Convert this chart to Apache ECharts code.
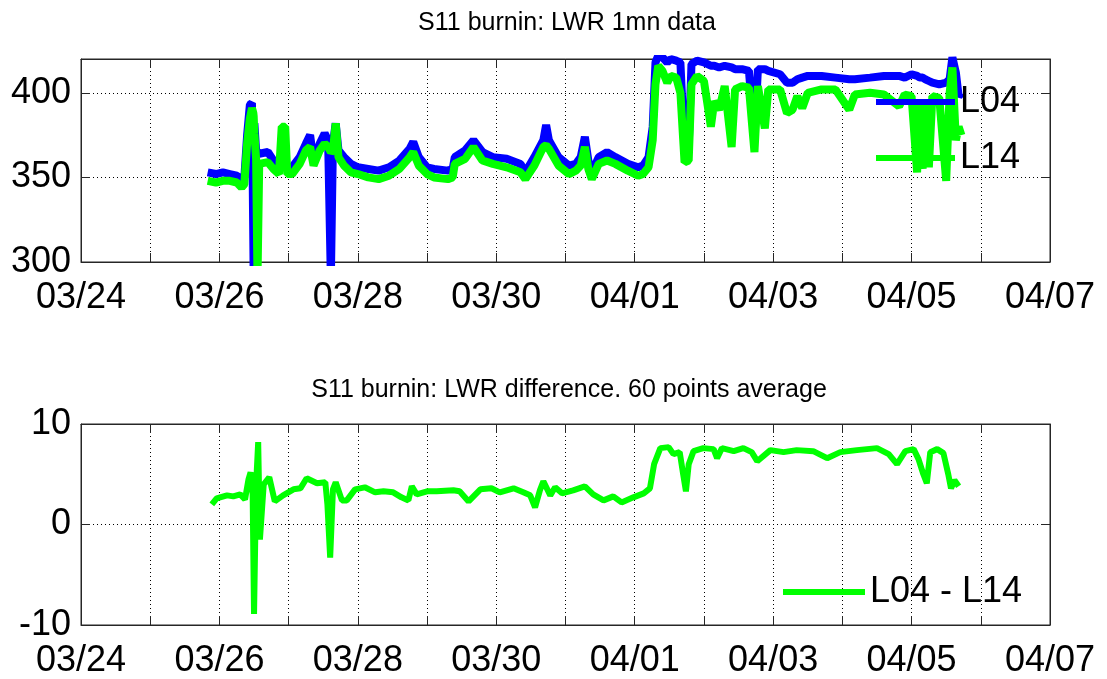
<!DOCTYPE html>
<html>
<head>
<meta charset="utf-8">
<title>S11 burnin LWR</title>
<script src="https://cdn.jsdelivr.net/npm/echarts@6/dist/echarts.min.js"></script>
<style>
  html, body { margin: 0; padding: 0; background: #fff; }
  #chart { width: 1107px; height: 679px; }
</style>
</head>
<body>
<div id="chart"></div>
<script>
// x values are days since 03/24 00:00
const xTickLabels = ['03/24', '03/26', '03/28', '03/30', '04/01', '04/03', '04/05', '04/07'];

const lwrDays = [
  1.83, 1.95, 2.05, 2.15, 2.25, 2.32, 2.36, 2.40, 2.44, 2.47, 2.49, 2.495, 2.505, 2.53, 2.55, 2.575,
  2.60, 2.70, 2.78, 2.86, 2.90, 2.95, 2.98, 3.05, 3.16, 3.25, 3.31, 3.36, 3.45, 3.52, 3.57, 3.61,
  3.64, 3.68, 3.72, 3.80, 3.90, 4.00, 4.15, 4.30, 4.45, 4.60, 4.75, 4.80, 4.88, 5.00, 5.10, 5.30,
  5.37, 5.40, 5.55, 5.67, 5.80, 5.95, 6.15, 6.35, 6.42, 6.55, 6.68, 6.72, 6.76, 6.90, 7.05, 7.15,
  7.22, 7.28, 7.33, 7.38, 7.48, 7.60, 7.72, 7.90, 8.05, 8.12, 8.20, 8.26, 8.30, 8.34, 8.40, 8.47,
  8.52, 8.60, 8.66, 8.72, 8.78, 8.82, 8.90, 9.00, 9.10, 9.15, 9.22, 9.30, 9.40, 9.45, 9.55, 9.65,
  9.73, 9.78, 9.88, 9.93, 10.10, 10.20, 10.28, 10.35, 10.42, 10.50, 10.70, 10.90, 11.10, 11.18, 11.40, 11.60,
  11.82, 11.90, 12.00, 12.08, 12.12, 12.16, 12.20, 12.25, 12.30, 12.40, 12.50, 12.55, 12.59, 12.64, 12.68, 12.72
];
const l04 = [
  353, 352, 353, 352, 351, 349, 350, 375, 393, 394, 394, 290, 382, 366, 365, 364,
  363, 365, 360, 356, 357, 356, 355, 356, 362, 370, 375, 360, 370, 376, 372, 290,
  370, 382, 366, 362, 358, 356, 355, 354, 356, 360, 367, 371, 362, 356, 355, 354,
  355, 362, 366, 372, 365, 362, 361, 358, 353, 362, 372, 381, 372, 362, 357, 358,
  362, 374, 360, 353, 362, 365, 362, 358, 356, 357, 362, 380, 418, 422, 421, 418,
  420, 419, 418, 366, 368, 417, 419, 418, 416, 416, 415, 416, 415, 414, 414, 413,
  373, 414, 414, 413, 411, 406, 406, 408, 409, 410, 410, 409, 408, 408, 409, 410,
  410, 409, 411, 410, 409, 409, 408, 407, 406, 405, 406, 408, 421, 412, 398, 400
];
const l14 = [
  348, 347, 348, 348, 347, 344, 346, 370, 385, 391, 388, 386, 376, 361, 290, 358,
  358, 359, 355, 352, 380, 380, 352, 352, 358, 366, 368, 357, 366, 370, 368, 365,
  366, 382, 362, 357, 353, 352, 350, 349, 351, 355, 362, 365, 357, 352, 350, 349,
  350, 358, 361, 368, 360, 358, 356, 353, 349, 357, 368, 369, 367, 357, 352, 354,
  357, 368, 355, 349, 358, 360, 358, 354, 351, 352, 356, 372, 405, 416, 413, 406,
  410, 409, 400, 359, 360, 405, 410, 407, 380, 395, 390, 404, 368, 402, 404, 403,
  365, 404, 379, 402, 402, 388, 390, 398, 391, 400, 402, 402, 390, 399, 400, 399,
  392, 399, 398, 353, 396, 355, 395, 356, 398, 397, 348, 400, 415, 372, 380, 375
];

const diffDays = [
  1.89, 1.96, 2.11, 2.20, 2.30, 2.37, 2.42, 2.45, 2.48, 2.50, 2.53, 2.56, 2.585, 2.64, 2.72, 2.80,
  2.92, 3.07, 3.17, 3.26, 3.41, 3.53, 3.56, 3.60, 3.64, 3.68, 3.77, 3.84, 3.96, 4.10, 4.25, 4.37,
  4.51, 4.63, 4.73, 4.78, 4.85, 5.00, 5.14, 5.38, 5.47, 5.60, 5.77, 5.93, 6.05, 6.25, 6.39, 6.49,
  6.56, 6.63, 6.68, 6.78, 6.85, 6.95, 7.11, 7.28, 7.40, 7.55, 7.69, 7.81, 7.98, 8.13, 8.22, 8.28,
  8.37, 8.49, 8.56, 8.65, 8.70, 8.74, 8.78, 8.85, 8.99, 9.14, 9.19, 9.26, 9.43, 9.57, 9.69, 9.77,
  9.96, 10.15, 10.34, 10.58, 10.78, 10.97, 11.21, 11.50, 11.67, 11.79, 11.91, 12.03, 12.10, 12.17, 12.22, 12.27,
  12.37, 12.46, 12.53, 12.57, 12.62, 12.68
];
const diffL04L14 = [
  2.0, 2.6, 2.9, 2.8, 3.0, 2.5, 4.5, 5.2, 3.0, -8.9, 4.0, 8.2, -1.5, 4.0, 4.7, 2.3,
  2.9, 3.5, 3.6, 4.6, 4.1, 4.2, 2.0, -3.3, 3.5, 4.2, 2.4, 2.4, 3.5, 3.7, 3.2, 3.3,
  3.2, 2.7, 2.4, 3.8, 3.0, 3.3, 3.3, 3.4, 3.3, 2.3, 3.5, 3.6, 3.2, 3.6, 3.2, 2.9,
  1.7, 3.4, 4.3, 2.9, 3.7, 3.1, 3.4, 3.8, 3.0, 2.4, 2.8, 2.2, 2.7, 3.1, 3.6, 6.0,
  7.6, 7.7, 7.0, 7.2, 5.0, 3.3, 6.0, 7.3, 7.6, 7.5, 6.6, 7.6, 7.3, 7.6, 7.2, 6.3,
  7.4, 7.2, 7.4, 7.3, 6.6, 7.2, 7.4, 7.6, 7.0, 6.0, 7.3, 7.5, 6.5, 5.0, 4.1, 7.2,
  7.5, 7.1, 5.0, 3.6, 4.4, 3.8
];

const chart = echarts.init(document.getElementById('chart'), null, { renderer: 'canvas' });

const FONT = '"Liberation Sans", Arial, Helvetica, sans-serif';
const frame = '#262626';

function pairs(xs, ys) {
  return xs.map((x, i) => [x, ys[i]]);
}

function dateLabel(v) {
  return (v % 2 === 0) ? xTickLabels[v / 2] : '';
}

function xAxisFor(gridIndex, bottom) {
  return {
    type: 'value',
    gridIndex: gridIndex,
    position: bottom ? 'bottom' : 'top',
    min: 0,
    max: 14,
    interval: 1,
    axisLine: { show: true, onZero: false, lineStyle: { color: frame, width: 1 } },
    axisTick: { show: true, inside: true, length: 9, lineStyle: { color: frame } },
    axisLabel: {
      show: bottom,
      formatter: dateLabel,
      fontFamily: FONT,
      fontSize: 36,
      color: '#000',
      margin: 18,
      showMinLabel: true,
      showMaxLabel: true
    },
    splitLine: {
      show: bottom,
      lineStyle: { color: '#000', width: 1, type: [1, 3] }
    }
  };
}

function yAxisFor(gridIndex, left, min, max, interval) {
  return {
    type: 'value',
    gridIndex: gridIndex,
    position: left ? 'left' : 'right',
    min: min,
    max: max,
    interval: interval,
    axisLine: { show: true, onZero: false, lineStyle: { color: frame, width: 1 } },
    axisTick: { show: true, inside: true, length: 9, lineStyle: { color: frame } },
    axisLabel: {
      show: left,
      fontFamily: FONT,
      fontSize: 36,
      color: '#000',
      margin: 10,
      showMaxLabel: max % interval === 0
    },
    splitLine: {
      show: left,
      lineStyle: { color: '#000', width: 1, type: [1, 3] }
    }
  };
}

const option = {
  backgroundColor: '#fff',
  animation: false,
  textStyle: { fontFamily: FONT, color: '#000' },
  title: [
    {
      text: 'S11 burnin: LWR 1mn data',
      left: 562, top: 6, textAlign: 'center',
      textStyle: { fontFamily: FONT, fontSize: 25, fontWeight: 'normal', color: '#000' }
    },
    {
      text: 'S11 burnin: LWR difference. 60 points average',
      left: 564, top: 373, textAlign: 'center',
      textStyle: { fontFamily: FONT, fontSize: 25, fontWeight: 'normal', color: '#000' }
    }
  ],
  grid: [
    { left: 81, top: 59, width: 969, height: 203, show: true, borderColor: frame, borderWidth: 1, backgroundColor: '#fff' },
    { left: 81, top: 424, width: 969, height: 202, show: true, borderColor: frame, borderWidth: 1, backgroundColor: '#fff' }
  ],
  xAxis: [
    xAxisFor(0, true),
    xAxisFor(0, false),
    xAxisFor(1, true),
    xAxisFor(1, false)
  ],
  yAxis: [
    yAxisFor(0, true, 300, 420, 50),
    yAxisFor(0, false, 300, 420, 50),
    yAxisFor(1, true, -10, 10, 10),
    yAxisFor(1, false, -10, 10, 10)
  ],
  legend: [
    {
      data: ['L04', 'L14'],
      orient: 'vertical',
      left: 876, top: 84,
      padding: 0,
      itemGap: 20,
      itemWidth: 79, itemHeight: 6,
      icon: 'rect',
      textStyle: { fontFamily: FONT, fontSize: 36, lineHeight: 36, color: '#000' }
    },
    {
      data: ['L04 - L14'],
      orient: 'vertical',
      left: 783, top: 574,
      padding: 0,
      itemWidth: 82, itemHeight: 6,
      icon: 'rect',
      textStyle: { fontFamily: FONT, fontSize: 36, lineHeight: 36, color: '#000' }
    }
  ],
  series: [
    {
      name: 'L04', type: 'line', xAxisIndex: 0, yAxisIndex: 0,
      data: pairs(lwrDays, l04),
      showSymbol: false, symbol: 'none', z: 2,
      color: '#0000ff',
      lineStyle: { color: '#0000ff', width: 8 }
    },
    {
      name: 'L14', type: 'line', xAxisIndex: 0, yAxisIndex: 0,
      data: pairs(lwrDays, l14),
      showSymbol: false, symbol: 'none', z: 3,
      color: '#00ff00',
      lineStyle: { color: '#00ff00', width: 8 }
    },
    {
      name: 'L04 - L14', type: 'line', xAxisIndex: 2, yAxisIndex: 2,
      data: pairs(diffDays, diffL04L14),
      showSymbol: false, symbol: 'none', z: 3,
      color: '#00ff00',
      lineStyle: { color: '#00ff00', width: 6 }
    }
  ]
};

chart.setOption(option);
</script>
</body>
</html>
